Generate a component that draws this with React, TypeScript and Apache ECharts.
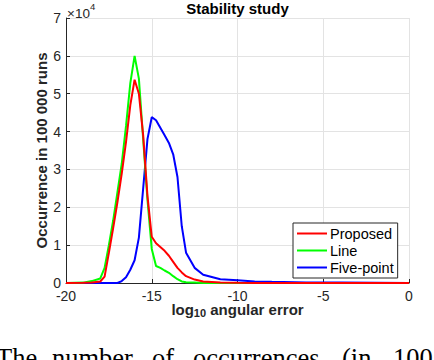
import React, { useEffect, useRef } from "react";
import * as echarts from "echarts";

const xGrid = [-20, -19, -18.5, -18, -17.75, -17.5, -17.25, -17, -16.75, -16.5, -16.25, -16, -15.75, -15.5, -15.25, -15, -14.75, -14.5, -14.25, -14, -13.75, -13.5, -13.25, -13, -12.5, -12, -11, -10, -9, -8, -6, -4, -2, 0];
const proposed = [0, 50, 150, 400, 1700, 8000, 14500, 21400, 28900, 37300, 47000, 53700, 50000, 39000, 23000, 12200, 10500, 9500, 8500, 7200, 5600, 4000, 2800, 1800, 900, 400, 150, 50, 0, 0, 0, 0, 0, 0];
const line = [0, 100, 500, 1200, 4000, 10000, 16500, 24000, 31500, 41500, 52800, 60000, 54000, 38000, 22000, 9000, 4500, 4000, 3300, 2700, 1800, 1000, 400, 200, 100, 0, 0, 0, 0, 0, 0, 0, 0, 0];
const fivePoint = [0, 0, 0, 0, 0, 0, 0, 0, 500, 1500, 3500, 6000, 12000, 25000, 38000, 43800, 43000, 41000, 39000, 37000, 34000, 28000, 15000, 8000, 4000, 2200, 1000, 700, 400, 300, 150, 100, 50, 0];
const seriesNames = ["Proposed", "Line", "Five-point"];
const seriesColors = ["#ff0000", "#00ff00", "#0000ff"];
const xTicks = { min: -20, max: 0, interval: 5 };
const yTicks = { min: 0, max: 70000, interval: 10000 };
const captionWords = ["The", "number", "of", "occurrences", "(in", "100"];
const captionX = [-4, 52, 152, 193, 342, 393];

export default function App() {
  const ref = useRef<HTMLDivElement>(null);
  useEffect(() => {
    if (!ref.current) return;
    const chart = echarts.init(ref.current, null, { renderer: "svg" });
    const sans = "Liberation Sans";
    const dataSets = [proposed, line, fivePoint];
    chart.setOption({
      animation: false,
      backgroundColor: "#ffffff",
      title: {
        text: "Stability study",
        left: 237.5,
        top: 1,
        textAlign: "center",
        padding: 0,
        textStyle: { fontFamily: sans, fontSize: 15, fontWeight: "bold", color: "#000" },
      },
      grid: { left: 66, right: 25, top: 18, bottom: 77 },
      legend: {
        orient: "vertical",
        left: 293,
        top: 223,
        padding: [3, 4, 3, 4],
        itemGap: 2,
        itemWidth: 30,
        itemHeight: 2,
        icon: "rect",
        backgroundColor: "#ffffff",
        borderColor: "#262626",
        borderWidth: 1,
        borderRadius: 0,
        textStyle: { fontFamily: sans, fontSize: 14.5, color: "#000", padding: [0, 0, 0, -2] },
        data: seriesNames,
      },
      xAxis: {
        type: "value",
        min: xTicks.min,
        max: xTicks.max,
        interval: xTicks.interval,
        name: "{a|log}{b|10}{a| angular error}",
        nameLocation: "middle",
        nameGap: 18,
        nameMoveOverlap: false,
        nameTextStyle: {
          rich: {
            a: { fontFamily: sans, fontSize: 15, fontWeight: "bold", color: "#262626" },
            b: { fontFamily: sans, fontSize: 11, fontWeight: "bold", color: "#262626", padding: [6, 0, 0, 0] },
          },
        },
        axisLine: { show: true, onZero: false, lineStyle: { color: "#262626", width: 1 } },
        axisTick: { show: true, inside: true, length: 4, lineStyle: { color: "#262626" } },
        axisLabel: { fontFamily: sans, fontSize: 14, color: "#262626", margin: 6 },
        splitLine: { show: true, lineStyle: { color: "#e3e3e3", width: 1 } },
      },
      yAxis: {
        type: "value",
        position: "left",
        min: yTicks.min,
        max: yTicks.max,
        interval: yTicks.interval,
        name: "Occurrence in 100 000 runs",
        nameLocation: "middle",
        nameGap: 17,
        nameMoveOverlap: false,
        nameTextStyle: { fontFamily: sans, fontSize: 15, fontWeight: "bold", color: "#262626" },
        axisLine: { show: true, onZero: false, lineStyle: { color: "#262626", width: 1 } },
        axisTick: { show: true, inside: true, length: 4, lineStyle: { color: "#262626" } },
        axisLabel: {
          fontFamily: sans,
          fontSize: 14,
          color: "#262626",
          margin: 5,
          formatter: (v: number) => String(v / 10000),
        },
        splitLine: { show: true, lineStyle: { color: "#e3e3e3", width: 1 } },
      },
      graphic: [
        {
          type: "text",
          left: 67,
          top: 6,
          style: { text: "×10", fontFamily: sans, fontSize: 13.5, fill: "#262626" },
        },
        {
          type: "text",
          left: 90,
          top: 1,
          style: { text: "4", fontFamily: sans, fontSize: 9.5, fill: "#262626" },
        },
        ...captionWords.map((w, i) => ({
          type: "text",
          x: captionX[i],
          y: 358,
          style: {
            text: w,
            fontFamily: "Liberation Serif",
            fontSize: 26.5,
            fill: "#000",
            textAlign: "left",
            textVerticalAlign: "middle",
          },
        })),
      ],
      series: seriesNames.map((name, si) => ({
        name,
        type: "line",
        symbol: "none",
        smooth: false,
        data: xGrid.map((x, i) => [x, dataSets[si][i]]),
        lineStyle: { color: seriesColors[si], width: 2 },
        itemStyle: { color: seriesColors[si] },
        z: 3 - si,
      })),
    });
    return () => chart.dispose();
  }, []);
  return (
    <div
      ref={ref}
      style={{ position: "fixed", left: 0, top: 0, width: 434, height: 360 }}
    />
  );
}
